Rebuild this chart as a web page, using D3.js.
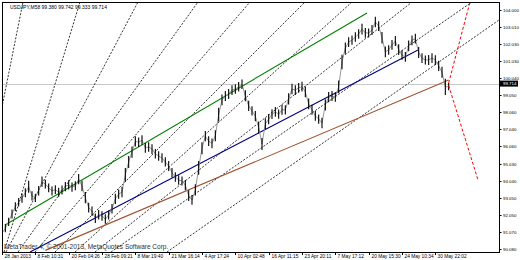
<!DOCTYPE html>
<html>
<head>
<meta charset="utf-8">
<script src="https://cdn.jsdelivr.net/npm/d3@7"></script>
<style>
  body { margin: 0; background: #fff; }
  svg text { font-family: "Liberation Sans", Arial, sans-serif; }
</style>
</head>
<body>
<div id="chart"></div>
<script>
// bar highs / lows
const highs = [91.22,91.52,91.90,92.38,92.80,93.05,93.30,93.62,94.05,93.45,93.30,93.75,94.30,94.12,93.90,93.72,93.80,93.65,93.78,93.98,
  94.08,93.95,94.02,94.45,94.05,93.40,92.78,92.55,92.15,92.35,92.28,92.10,92.32,92.70,93.30,93.55,93.70,94.80,95.50,96.05,
  96.65,96.58,96.70,96.25,96.30,96.18,95.90,95.78,95.65,95.42,95.20,94.80,94.55,94.38,94.30,94.10,93.50,93.22,93.85,95.20,
  96.30,96.95,96.65,96.52,97.00,98.30,99.08,99.28,99.40,99.62,99.68,99.80,99.95,99.32,98.72,98.40,98.12,97.50,96.55,97.70,
  97.95,98.22,98.35,98.20,98.48,98.45,99.15,99.70,99.62,99.75,99.82,99.55,98.85,98.48,98.12,97.92,97.72,98.80,99.22,99.28,
  99.20,99.90,101.40,102.10,102.42,102.52,102.70,102.88,103.20,102.95,102.92,103.12,103.60,103.35,102.72,101.88,101.95,102.25,102.48,102.00,
  101.65,101.55,102.22,102.52,102.62,101.85,101.48,101.35,101.38,101.48,101.36,101.05,100.70,100.00,99.742];
const lows = [90.80,91.05,91.42,91.86,92.30,92.55,92.78,93.10,93.35,92.90,92.82,93.20,93.70,93.60,93.38,93.20,93.28,93.12,93.25,93.45,
  93.55,93.42,93.50,93.85,93.45,92.75,92.20,92.00,91.60,91.80,91.72,91.55,91.80,92.15,92.70,93.00,93.10,94.00,94.80,95.40,
  96.05,96.02,96.15,95.68,95.75,95.62,95.35,95.22,95.10,94.88,94.62,94.25,94.00,93.82,93.78,93.50,92.88,92.65,93.20,94.40,
  95.60,96.35,96.08,95.95,96.35,97.50,98.45,98.70,98.82,99.05,99.12,99.25,99.40,98.68,98.12,97.85,97.52,96.80,95.85,97.02,
  97.35,97.65,97.78,97.66,97.90,97.92,98.50,99.10,99.05,99.18,99.25,98.92,98.22,97.90,97.55,97.38,97.12,98.15,98.62,98.70,
  98.65,99.15,100.55,101.45,101.85,101.98,102.15,102.32,102.58,102.38,102.40,102.55,103.00,102.78,102.05,101.25,101.40,101.68,101.90,101.38,
  101.10,100.98,101.60,101.95,102.05,101.20,100.92,100.82,100.80,100.92,100.80,100.45,100.05,99.05,99.333];

const timeLabels = ["28 Jan 2013","8 Feb 10:31","20 Feb 04:26","28 Feb 09:21","8 Mar 19:40","21 Mar 16:14","4 Apr 17:24",
  "10 Apr 02:48","16 Apr 11:15","23 Apr 20:11","7 May 17:12","20 May 15:30","24 May 10:34","30 May 22:02"];
const barsPerLabel = 10;
const priceTicks = [104.000,103.010,102.030,101.030,100.040,99.050,98.060,97.040,96.060,95.030,94.040,93.050,92.050,91.070,90.080];
const lastPrice = 99.714;
const title = "USDJPY,M58  99.380 99.742 99.333 99.714";
const copyright = "MetaTrader 4, \u00a9 2001-2013, MetaQuotes Software Corp.";

// drawn objects, anchors as [bar, price]
const fanLines = [
  [[-8.7, 89.905], [6.3, 104.466]],
  [[0.6, 89.905], [23.4, 104.466]],
  [[1.2, 89.905], [40.8, 104.466]],
  [[4.8, 89.905], [58.8, 104.466]],
  [[9.9, 89.905], [74.4, 104.466]],
  [[15.9, 89.905], [90.9, 104.466]],
  [[21.9, 89.905], [105.0, 104.466]],
  [[27.9, 89.905], [123.0, 104.466]],
  [[32.7, 89.905], [141.0, 104.466]],
  [[49.5, 89.905], [149.1, 103.417]]
];
const trendLines = [
  { from: [0.9, 91.48], to: [109.5, 103.82], color: "#008000" },
  { from: [8.4, 89.905], to: [124.8, 101.67], color: "#000080" },
  { from: [13, 90.00], to: [134, 99.92], color: "#a0522d" }
];
const redLines = [
  [[134, 99.75], [140.4, 104.47]],
  [[134, 99.60], [142.8, 94.10]]
];

const W = 520, H = 260;
const box = { left: 2, right: 499, top: 2, bottom: 252 };

const x = d3.scaleLinear().domain([0, 149.1]).range([box.left, box.right]);
const y = d3.scaleLinear().domain([90.08, 104.0]).range([249, 10]);

const svg = d3.select("#chart").append("svg")
  .attr("width", W).attr("height", H)
  .style("display", "block");

svg.append("defs").append("clipPath").attr("id", "plot")
  .append("rect").attr("x", box.left).attr("y", box.top)
  .attr("width", box.right - box.left).attr("height", box.bottom - box.top);

const plot = svg.append("g").attr("clip-path", "url(#plot)");

// last price line
plot.append("line")
  .attr("x1", box.left).attr("x2", box.right)
  .attr("y1", Math.round(y(lastPrice)) + 0.5).attr("y2", Math.round(y(lastPrice)) + 0.5)
  .attr("stroke", "#c8c8c8").attr("stroke-width", 1);

// fan
plot.selectAll(".fan").data(fanLines).join("line")
  .attr("class", "fan")
  .attr("x1", d => x(d[0][0])).attr("y1", d => y(d[0][1]))
  .attr("x2", d => x(d[1][0])).attr("y2", d => y(d[1][1]))
  .attr("stroke", "#000").attr("stroke-width", 0.8)
  .attr("stroke-dasharray", "2,1.5");

// trend lines
plot.selectAll(".trend").data(trendLines).join("line")
  .attr("class", "trend")
  .attr("x1", d => x(d.from[0])).attr("y1", d => y(d.from[1]))
  .attr("x2", d => x(d.to[0])).attr("y2", d => y(d.to[1]))
  .attr("stroke", d => d.color).attr("stroke-width", 1.1);

// price bars
const mid = highs.map((h, i) => (h + lows[i]) / 2);
plot.append("path")
  .datum(mid)
  .attr("fill", "none").attr("stroke", "#999").attr("stroke-width", 1)
  .attr("d", d3.line().x((d, i) => x(i)).y(d => y(d)));

plot.selectAll(".bar").data(highs).join("line")
  .attr("class", "bar")
  .attr("x1", (d, i) => x(i)).attr("x2", (d, i) => x(i))
  .attr("y1", d => y(d)).attr("y2", (d, i) => y(lows[i]))
  .attr("stroke", "#000").attr("stroke-width", 1.1);

// red projections
plot.selectAll(".red").data(redLines).join("line")
  .attr("class", "red")
  .attr("x1", d => x(d[0][0])).attr("y1", d => y(d[0][1]))
  .attr("x2", d => x(d[1][0])).attr("y2", d => y(d[1][1]))
  .attr("stroke", "#ff0000").attr("stroke-width", 1)
  .attr("stroke-dasharray", "3,2");

// frame
svg.append("rect")
  .attr("x", box.left + 0.5).attr("y", box.top + 0.5)
  .attr("width", box.right - box.left).attr("height", box.bottom - box.top)
  .attr("fill", "none").attr("stroke", "#000").attr("stroke-width", 1);

// price axis
const pAxis = svg.append("g").attr("font-size", 4.4).attr("fill", "#000");
priceTicks.forEach(p => {
  const yy = Math.round(y(p)) + 0.5;
  pAxis.append("line").attr("x1", box.right).attr("x2", box.right + 2.5)
    .attr("y1", yy).attr("y2", yy).attr("stroke", "#000");
  pAxis.append("text").attr("x", box.right + 4).attr("y", yy + 1.6).text(p.toFixed(3));
});
const ly = y(lastPrice);
svg.append("rect").attr("x", box.right + 1).attr("y", ly - 3)
  .attr("width", 18).attr("height", 6).attr("fill", "#000");
svg.append("text").attr("x", box.right + 4).attr("y", ly + 1.6)
  .attr("font-size", 4.4).attr("fill", "#fff").text(lastPrice.toFixed(3));

// time axis
const tAxis = svg.append("g").attr("font-size", 4.8).attr("fill", "#000");
timeLabels.forEach((t, k) => {
  const xx = Math.round(x(k * barsPerLabel)) + 0.5;
  tAxis.append("line").attr("x1", xx).attr("x2", xx)
    .attr("y1", box.bottom).attr("y2", box.bottom + 3).attr("stroke", "#000");
  tAxis.append("text").attr("x", xx + 2).attr("y", box.bottom + 6).text(t);
});

// labels
svg.append("text").attr("x", 10).attr("y", 9)
  .attr("font-size", 5).attr("fill", "#000").text(title);
svg.append("text").attr("x", 4).attr("y", 249)
  .attr("font-size", 6.5).attr("fill", "#303030").text(copyright);
</script>
</body>
</html>
